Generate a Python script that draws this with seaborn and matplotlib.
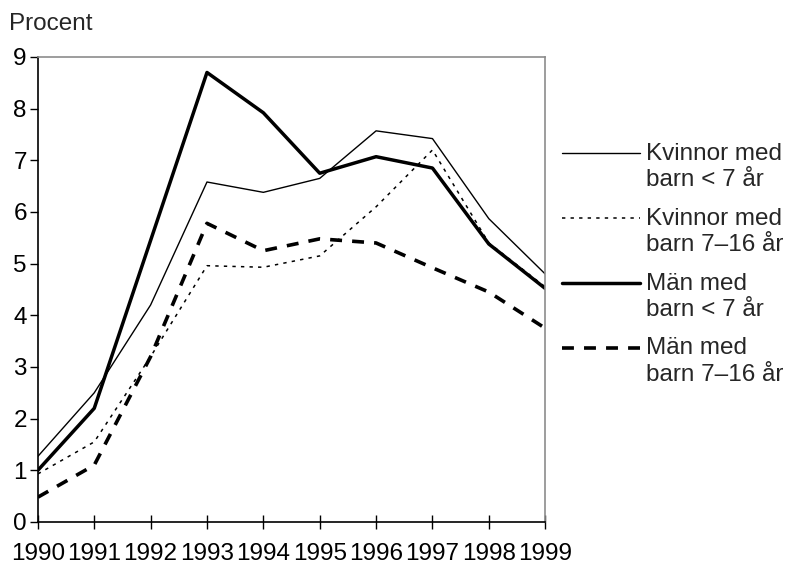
import pandas as pd
import matplotlib
matplotlib.use('Agg')
import matplotlib.pyplot as plt
import seaborn as sns
from matplotlib.legend_handler import HandlerLine2D

# Data
years = [1990, 1991, 1992, 1993, 1994, 1995, 1996, 1997, 1998, 1999]
kvinnor_under7 = [1.27, 2.5, 4.2, 6.58, 6.38, 6.65, 7.57, 7.42, 5.87, 4.8]
kvinnor_7_16 = [0.93, 1.55, 3.2, 4.96, 4.93, 5.15, 6.1, 7.2, 5.4, 4.55]
man_under7 = [1.0, 2.2, 5.45, 8.7, 7.92, 6.75, 7.07, 6.85, 5.38, 4.52]
man_7_16 = [0.48, 1.1, 3.2, 5.78, 5.25, 5.48, 5.4, 4.92, 4.45, 3.75]

labels = ['Kvinnor med\nbarn < 7 år', 'Kvinnor med\nbarn 7\u201316 år',
          'Män med\nbarn < 7 år', 'Män med\nbarn 7\u201316 år']

FS = 17.5


class FirstLineHandler(HandlerLine2D):
    """Put the legend line next to the first row of a two-row label."""
    def create_artists(self, legend, orig_handle, xdescent, ydescent,
                       width, height, fontsize, trans):
        artists = super().create_artists(legend, orig_handle, xdescent, ydescent,
                                         width, height, fontsize, trans)
        for a in artists:
            y = a.get_ydata()
            a.set_ydata([v + 0.57 * fontsize for v in y])
        return artists


def main():
    sns.set_theme(style='white')
    plt.rcParams['font.family'] = ['Liberation Sans', 'DejaVu Sans']

    df = pd.DataFrame({'year': years})
    series = [
        (kvinnor_under7, dict(color='black', linewidth=1.0, linestyle='-')),
        (kvinnor_7_16, dict(color='black', linewidth=1.1, linestyle=(0, (2.2, 3.4)))),
        (man_under7, dict(color='black', linewidth=2.5, linestyle='-')),
        (man_7_16, dict(color='black', linewidth=2.6, linestyle=(0, (3.3, 2.8)))),
    ]

    fig = plt.figure(figsize=(7.89, 5.64), dpi=100)
    ax = fig.add_axes([0.048, 0.0745, 0.643, 0.8245])

    for (vals, style), lab in zip(series, labels):
        df['val'] = vals
        sns.lineplot(data=df, x='year', y='val', ax=ax, label=lab, **style)
    handles = ax.get_lines()[:4]

    ax.set_xlim(1990, 1999)
    ax.set_ylim(0, 9)
    ax.set_xticks(years)
    ax.set_yticks(range(0, 10))
    ax.set_xlabel('')
    ax.set_ylabel('')
    ax.tick_params(axis='both', labelsize=FS, colors='black')
    ax.tick_params(axis='x', direction='inout', length=10, width=1, pad=10, bottom=True)
    ax.tick_params(axis='y', direction='out', length=6, width=1, pad=2, left=True)

    for side in ['left', 'bottom']:
        ax.spines[side].set_color('black')
        ax.spines[side].set_linewidth(1.2)
    for side in ['top', 'right']:
        ax.spines[side].set_color('#8c8c8c')
        ax.spines[side].set_linewidth(1.2)

    fig.text(9 / 789, 1 - 24 / 564, 'Procent', fontsize=FS, va='center', ha='left')

    leg = ax.legend(handles=handles, labels=labels,
                    handler_map={h: FirstLineHandler() for h in handles},
                    loc='upper left', bbox_to_anchor=(562 / 789, 1 - 143 / 564),
                    bbox_transform=fig.transFigure, frameon=False, fontsize=FS,
                    handlelength=3.2, handletextpad=0.25, labelspacing=0.68,
                    borderpad=0, borderaxespad=0)
    for t in leg.get_texts():
        t.set_linespacing(1.25)

    fig.savefig('out.png', dpi=100)
    plt.close(fig)


if __name__ == '__main__':
    main()
